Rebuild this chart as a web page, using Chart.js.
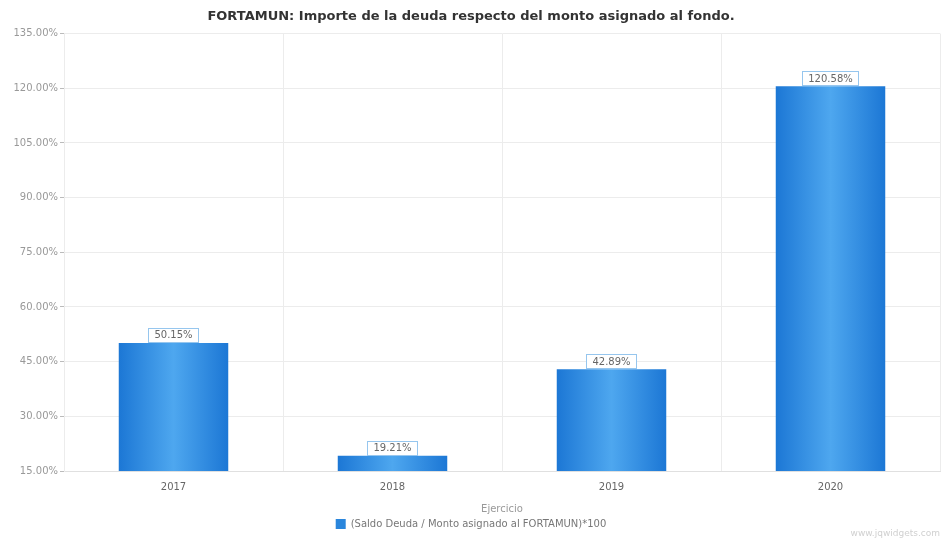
<!DOCTYPE html>
<html>
<head>
<meta charset="utf-8">
<script src="https://cdn.jsdelivr.net/npm/chart.js@4"></script>
<style>
  body { margin: 0; background: #fff; }
</style>
</head>
<body>
<canvas id="myChart" width="943" height="540"></canvas>
<script>
// chart data
const years = ['2017', '2018', '2019', '2020'];
const ratios = [50.15, 19.21, 42.89, 120.58];
const yTicks = [15, 30, 45, 60, 75, 90, 105, 120, 135];

const seriesName = '(Saldo Deuda / Monto asignado al FORTAMUN)*100';
const chartTitle = 'FORTAMUN: Importe de la deuda respecto del monto asignado al fondo.';
const fontFam = '"DejaVu Sans", Verdana, sans-serif';

// horizontal gradient for each bar, lighter stripe in the middle
function barGradient(context) {
    const chart = context.chart;
    const xs = chart.scales.x;
    if (!chart.chartArea || !xs) return '#2a86dc';
    const cx = xs.getPixelForValue(context.dataIndex);
    const half = (xs.width / years.length) * 0.25;
    const g = chart.ctx.createLinearGradient(cx - half, 0, cx + half, 0);
    g.addColorStop(0, '#1c77d5');
    g.addColorStop(0.5, '#4ea7ef');
    g.addColorStop(1, '#1c77d5');
    return g;
}

// boxed value labels above the bars + watermark
const valueBoxes = {
    id: 'valueBoxes',
    afterDatasetsDraw(chart) {
        const ctx = chart.ctx;
        const meta = chart.getDatasetMeta(0);
        ctx.save();
        ctx.font = '10px ' + fontFam;
        ctx.textAlign = 'center';
        ctx.textBaseline = 'middle';
        meta.data.forEach(function(bar, i) {
            const txt = ratios[i].toFixed(2) + '%';
            const w = ctx.measureText(txt).width + 12;
            const h = 14;
            const x = bar.x - w / 2;
            const y = bar.y - h - 1;
            ctx.fillStyle = '#fff';
            ctx.fillRect(x, y, w, h);
            ctx.strokeStyle = '#96c6ee';
            ctx.lineWidth = 1;
            ctx.strokeRect(Math.round(x) + 0.5, Math.round(y) + 0.5, Math.round(w), h);
            ctx.fillStyle = '#666';
            ctx.fillText(txt, bar.x, y + h / 2 + 1);
        });
        ctx.font = '9px ' + fontFam;
        ctx.textAlign = 'right';
        ctx.fillStyle = '#d0d0d0';
        ctx.fillText('www.jqwidgets.com', 940, 534);
        ctx.restore();
    }
};

new Chart(document.getElementById('myChart'), {
    type: 'bar',
    data: {
        labels: years,
        datasets: [{
            label: seriesName,
            data: ratios,
            backgroundColor: barGradient,
            borderWidth: 0,
            barPercentage: 0.5,
            categoryPercentage: 1.0
        }]
    },
    options: {
        responsive: false,
        animation: false,
        layout: { padding: { left: 2, right: 3, top: 0, bottom: 1 } },
        scales: {
            x: {
                grid: { color: '#ececec', offset: true, tickLength: 0, drawTicks: false },
                border: { color: '#e0e0e0' },
                ticks: { color: '#666', padding: 10, font: { size: 10, family: fontFam } },
                title: { display: true, text: 'Ejercicio', color: '#999', padding: { top: 0, bottom: 0 },
                         font: { size: 10, family: fontFam } }
            },
            y: {
                min: 15,
                max: 135,
                afterBuildTicks(axis) { axis.ticks = yTicks.map(v => ({ value: v })); },
                afterFit(axis) { axis.width = 62; },
                grid: { color: '#ececec', tickLength: 4, tickColor: '#bbb' },
                border: { color: '#ececec' },
                ticks: {
                    color: '#999',
                    padding: 2,
                    font: { size: 10, family: fontFam },
                    callback: v => v.toFixed(2) + '%'
                }
            }
        },
        plugins: {
            title: {
                display: true,
                text: chartTitle,
                color: '#333',
                padding: { top: 9, bottom: 9 },
                font: { size: 13, weight: 'bold', family: fontFam }
            },
            legend: {
                position: 'bottom',
                labels: {
                    boxWidth: 10,
                    boxHeight: 10,
                    padding: 4,
                    color: '#777',
                    font: { size: 10, family: fontFam },
                    generateLabels: function(chart) {
                        return [{ text: seriesName, fillStyle: '#2a86dc', strokeStyle: '#2a86dc', lineWidth: 0, fontColor: '#777', datasetIndex: 0 }];
                    }
                }
            },
            tooltip: { enabled: false }
        }
    },
    plugins: [valueBoxes]
});
</script>
</body>
</html>
